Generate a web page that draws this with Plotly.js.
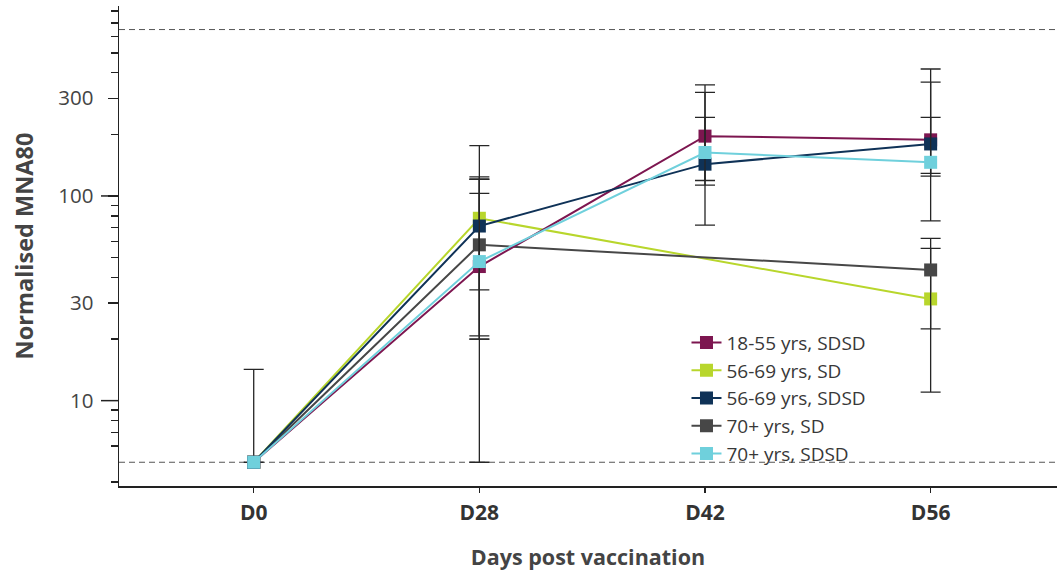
<!DOCTYPE html>
<html>
<head>
<meta charset="utf-8">
<script src="https://cdn.plot.ly/plotly-3.0.1.min.js"></script>
<style>html,body{margin:0;padding:0;background:#fff;}#chart{width:1059px;height:576px;}</style>
</head>
<body>
<div id="chart"></div>
<script>
// ---- data ----
var days = ['D0', 'D28', 'D42', 'D56'];

var names = ['18-55 yrs, SDSD', '56-69 yrs, SD', '56-69 yrs, SDSD', '70+ yrs, SD', '70+ yrs, SDSD'];

// geometric means
var g1855_SDSD = [5, 45.2, 196, 188];
var g5669_SD   = [5, 77.8, null, 31.4];
var g5669_SDSD = [5, 71.3, 143, 179.5];
var g70_SD     = [5, 57.7, null, 43.5];
var g70_SDSD   = [5, 47.8, 163, 146];

// upper / lower 95% CI
var g1855_SDSD_hi = [null, 120.7, 349, 417];
var g1855_SDSD_lo = [null, 20, 113, 129];
var g5669_SD_hi   = [null, 176, null, 55.5];
var g5669_SD_lo   = [null, 34.8, null, 11];
var g5669_SDSD_hi = [null, 124, 242, 360];
var g5669_SDSD_lo = [null, 20.7, 119, 125];
var g70_SD_hi     = [14.2, 120.7, null, 62];
var g70_SD_lo     = [5, 5, null, 22.4];
var g70_SDSD_hi   = [null, 103, 321, 242];
var g70_SDSD_lo   = [null, 20, 72, 75.5];

var lloq = 5;
var uloq = 650;

var yTickVals = [10, 30, 100, 300];
var yTickText = ['10', '30', '100', '300'];
var yMinorVals = [4, 6, 7, 8, 9, 20, 40, 50, 60, 70, 80, 90, 200, 400, 500, 600, 700, 800];
var yLongTicks = [10, 100];

// ---- styling ----
var colors = {
  c1855_SDSD: '#7d1650',
  c5669_SD: '#b8d62c',
  c5669_SDSD: '#0f3257',
  c70_SD: '#474747',
  c70_SDSD: '#6fd0dc'
};

function up(v, hi) { return v.map(function (d, i) { return (d == null || hi[i] == null) ? NaN : hi[i] - d; }); }
function dn(v, lo) { return v.map(function (d, i) { return (d == null || lo[i] == null) ? NaN : d - lo[i]; }); }

function mk(name, y, hi, lo, color, rank) {
  return {
    type: 'scatter', mode: 'lines+markers', name: name,
    x: days, y: y, connectgaps: true, legendrank: rank,
    line: {color: color, width: 2},
    marker: {symbol: 'square', size: 13, color: color},
    error_y: {type: 'data', symmetric: false, array: up(y, hi), arrayminus: dn(y, lo),
              color: '#262626', thickness: 1.3, width: 10}
  };
}

var traces = [
  mk(names[1], g5669_SD, g5669_SD_hi, g5669_SD_lo, colors.c5669_SD, 2),
  mk(names[3], g70_SD, g70_SD_hi, g70_SD_lo, colors.c70_SD, 4),
  mk(names[0], g1855_SDSD, g1855_SDSD_hi, g1855_SDSD_lo, colors.c1855_SDSD, 1),
  mk(names[2], g5669_SDSD, g5669_SDSD_hi, g5669_SDSD_lo, colors.c5669_SDSD, 3),
  mk(names[4], g70_SDSD, g70_SDSD_hi, g70_SDSD_lo, colors.c70_SDSD, 5)
];

var plotW = 1059 - 119 - 2;
var shapes = [
  {type: 'line', xref: 'paper', yref: 'y', x0: 0, x1: 1, y0: lloq, y1: lloq,
   line: {color: '#555', width: 1, dash: '6px,4px'}, layer: 'below'},
  {type: 'line', xref: 'paper', yref: 'y', x0: 0, x1: 1, y0: uloq, y1: uloq,
   line: {color: '#555', width: 1, dash: '6px,4px'}, layer: 'below'}
];
yLongTicks.forEach(function (v) {
  shapes.push({type: 'line', xref: 'paper', yref: 'y', x0: -18 / plotW, x1: 0, y0: v, y1: v,
               line: {color: '#222', width: 1.5}});
});

var layout = {
  width: 1059, height: 576,
  margin: {l: 119, r: 2, t: 6, b: 90},
  paper_bgcolor: '#fff', plot_bgcolor: '#fff',
  font: {family: 'Open Sans, sans-serif', color: '#333'},
  showlegend: true,
  legend: {x: 0.605, y: 0.338, xanchor: 'left', yanchor: 'top',
           font: {size: 19, color: '#383838'}, bgcolor: 'rgba(0,0,0,0)',
           tracegroupgap: 0, itemwidth: 30},
  xaxis: {
    type: 'category', range: [-0.597, 3.56],
    showline: true, linecolor: '#222', linewidth: 1.5,
    ticks: 'outside', ticklen: 5, tickwidth: 1.5, tickcolor: '#222',
    ticklabelstandoff: 2,
    showgrid: false, zeroline: false,
    tickfont: {size: 21, color: '#333', weight: 700},
    title: {text: 'Days post vaccination', font: {size: 21.5, color: '#444', weight: 700}, standoff: 25}
  },
  yaxis: {
    type: 'log', range: [0.583, 2.928],
    showline: true, linecolor: '#222', linewidth: 1.5,
    tickmode: 'array', tickvals: yTickVals, ticktext: yTickText,
    ticks: 'outside', ticklen: 10, tickwidth: 1.5, tickcolor: '#222',
    ticklabelstandoff: 10,
    minor: {tickmode: 'array', tickvals: yMinorVals, ticks: 'outside', ticklen: 7, tickwidth: 1.5, tickcolor: '#222', showgrid: false},
    showgrid: false, zeroline: false,
    tickfont: {size: 20.5, color: '#444'},
    title: {text: 'Normalised MNA80', font: {size: 23.5, color: '#444', weight: 700}, standoff: 18}
  },
  shapes: shapes
};

Plotly.newPlot('chart', traces, layout, {displayModeBar: false, staticPlot: true});
</script>
</body>
</html>
